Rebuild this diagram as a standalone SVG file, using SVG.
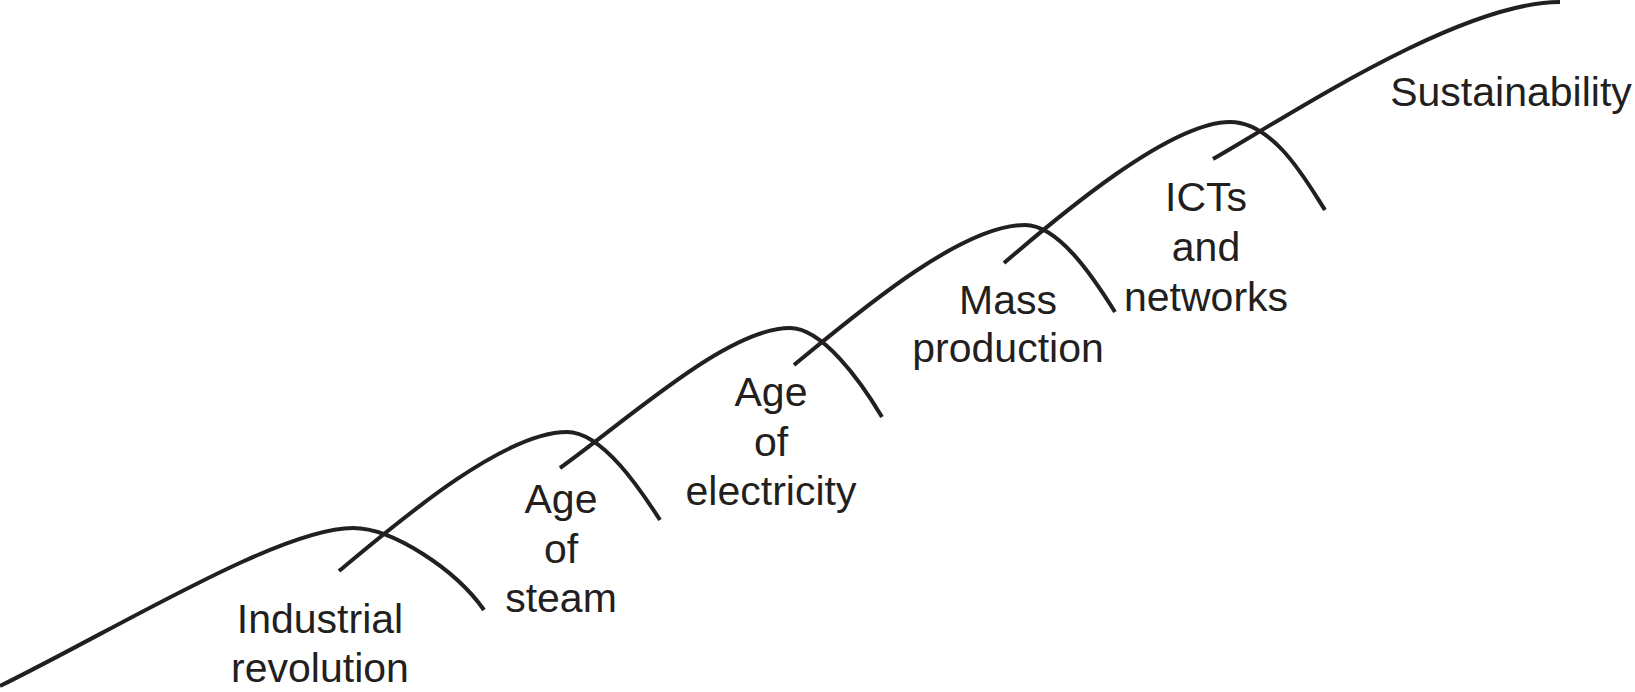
<svg xmlns="http://www.w3.org/2000/svg" width="1635" height="692" viewBox="0 0 1635 692">
<style>
  .wave { fill: none; stroke: #231f20; stroke-width: 4; stroke-linecap: butt; }
  .lbl { font-family: "Liberation Sans", Arial, Helvetica, sans-serif; font-size: 41px; fill: #231f20; text-anchor: middle; }
</style>
<rect x="0" y="0" width="1635" height="692" fill="#ffffff"/>
<g id="stage-industrial-revolution">
  <path class="wave" d="M0,686 C120,627 280,528 353,528 C393,528 456,570 484,610"/>
  <text class="lbl" x="320" y="633">Industrial</text>
  <text class="lbl" x="320" y="682">revolution</text>
</g>
<g id="stage-age-of-steam">
  <path class="wave" d="M339,571 C398,522 503,432 567,432 C603,432 642,492 660,520"/>
  <text class="lbl" x="561" y="513">Age</text>
  <text class="lbl" x="561" y="563">of</text>
  <text class="lbl" x="561" y="612">steam</text>
</g>
<g id="stage-age-of-electricity">
  <path class="wave" d="M560,468 C630,418 728,328 790,328 C822,328 860,380 882,417"/>
  <text class="lbl" x="771" y="406">Age</text>
  <text class="lbl" x="771" y="456">of</text>
  <text class="lbl" x="771" y="505">electricity</text>
</g>
<g id="stage-mass-production">
  <path class="wave" d="M794,365 C855,315 960,225 1025,225 C1058,225 1092,275 1115,312"/>
  <text class="lbl" x="1008" y="314">Mass</text>
  <text class="lbl" x="1008" y="362">production</text>
</g>
<g id="stage-icts-and-networks">
  <path class="wave" d="M1004,263 C1060,215 1170,122 1230,122 C1275,122 1308,184 1325,210"/>
  <text class="lbl" x="1206" y="211">ICTs</text>
  <text class="lbl" x="1206" y="261">and</text>
  <text class="lbl" x="1206" y="311">networks</text>
</g>
<g id="stage-sustainability">
  <path class="wave" d="M1213,159 C1290,115 1460,2 1560,2"/>
  <text class="lbl" x="1511" y="106">Sustainability</text>
</g>
</svg>
